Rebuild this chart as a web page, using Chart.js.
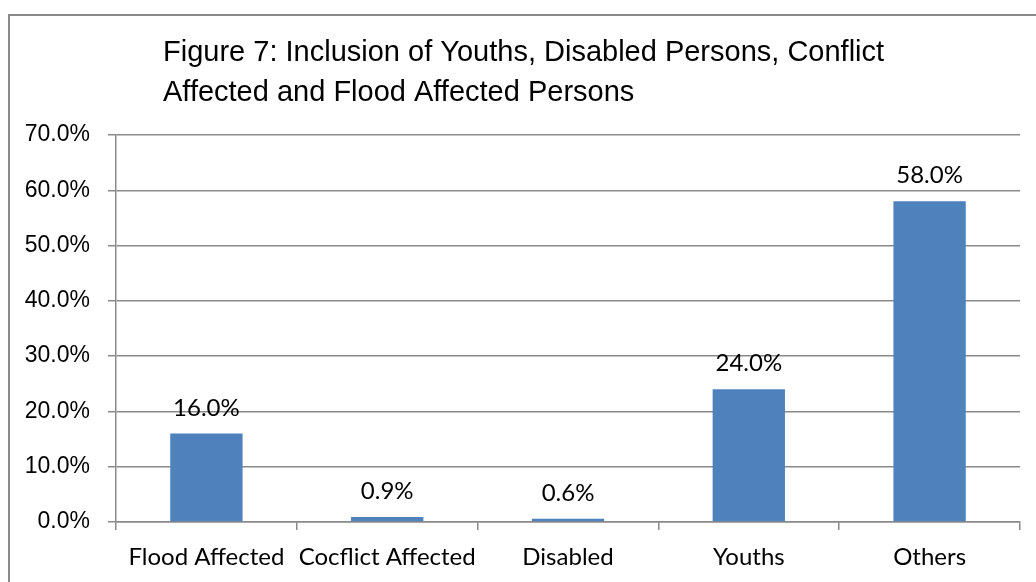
<!DOCTYPE html>
<html>
<head>
<meta charset="utf-8">
<title>Figure 7</title>
<script src="https://cdn.jsdelivr.net/npm/chart.js@4/dist/chart.umd.min.js"></script>
<style>
  html, body { margin: 0; padding: 0; background: #fff; overflow: hidden; }
  #frame {
    position: absolute; left: 8px; top: 14px; width: 1200px; height: 800px;
    border-left: 2px solid #8a8a8a; border-top: 2px solid #8a8a8a;
  }
  #wrap { position: absolute; left: 0; top: 0; width: 1036px; height: 582px; }
</style>
</head>
<body>
<div id="frame"></div>
<div id="wrap"><canvas id="chart"></canvas></div>
<script>
const categories = ['Flood Affected', 'Cocflict Affected', 'Disabled', 'Youths', 'Others'];
const values = [16.0, 0.9, 0.6, 24.0, 58.0];
const yTicks = [0, 10, 20, 30, 40, 50, 60, 70];
const titleLines = ['Figure 7: Inclusion of Youths, Disabled Persons, Conflict',
                    'Affected and Flood Affected Persons'];

function pct(v) {
    return v.toFixed(1) + '%';
}

// title drawn left aligned at a fixed x, two lines
const titlePlugin = {
    id: 'figTitle',
    afterDraw(chart) {
        const ctx = chart.ctx;
        ctx.save();
        ctx.fillStyle = '#000';
        ctx.font = '29px "Liberation Sans", Arial, sans-serif';
        ctx.textAlign = 'left';
        ctx.textBaseline = 'alphabetic';
        ctx.fillText(titleLines[0], 163, 61);
        ctx.fillText(titleLines[1], 163, 101);
        ctx.restore();
    }
};

// value labels above each bar
const valueLabels = {
    id: 'valueLabels',
    afterDatasetsDraw(chart) {
        const ctx = chart.ctx;
        const meta = chart.getDatasetMeta(0);
        ctx.save();
        ctx.fillStyle = '#000';
        ctx.font = '24px Lato, sans-serif';
        ctx.textAlign = 'center';
        ctx.textBaseline = 'alphabetic';
        meta.data.forEach(function (bar, i) {
            ctx.fillText(pct(values[i]), bar.x, bar.y - 18);
        });
        ctx.restore();
    }
};

const ctx = document.getElementById('chart');

new Chart(ctx, {
    type: 'bar',
    data: {
        labels: categories,
        datasets: [{
            data: values,
            backgroundColor: '#4F81BD',
            borderWidth: 0,
            categoryPercentage: 1,
            barPercentage: 0.4
        }]
    },
    options: {
        responsive: true,
        maintainAspectRatio: false,
        animation: false,
        layout: { padding: { top: 135, right: 16, bottom: 0, left: 0 } },
        plugins: {
            legend: { display: false },
            title: { display: false },
            tooltip: { enabled: false }
        },
        scales: {
            x: {
                afterFit: function (s) { s.height = 60; },
                grid: {
                    display: true,
                    drawOnChartArea: false,
                    drawTicks: true,
                    tickLength: 8,
                    color: '#8a8a8a',
                    lineWidth: 1.5,
                    offset: true
                },
                border: { display: true, color: '#8a8a8a', width: 1.5 },
                ticks: {
                    color: '#000',
                    padding: 13,
                    maxRotation: 0,
                    minRotation: 0,
                    autoSkip: false,
                    font: { family: 'Lato', size: 24 }
                }
            },
            y: {
                min: 0,
                max: 70,
                afterFit: function (s) { s.width = 116; },
                afterBuildTicks: function (s) {
                    s.ticks = yTicks.map(function (v) { return { value: v }; });
                },
                grid: {
                    color: '#8a8a8a',
                    lineWidth: 1.5,
                    drawTicks: true,
                    tickLength: 8
                },
                border: { display: true, color: '#8a8a8a', width: 1.5 },
                ticks: {
                    color: '#000',
                    padding: 18,
                    font: { family: '"Liberation Sans", Arial', size: 23 },
                    callback: function (v) { return pct(v); }
                }
            }
        }
    },
    plugins: [titlePlugin, valueLabels]
});
</script>
</body>
</html>
